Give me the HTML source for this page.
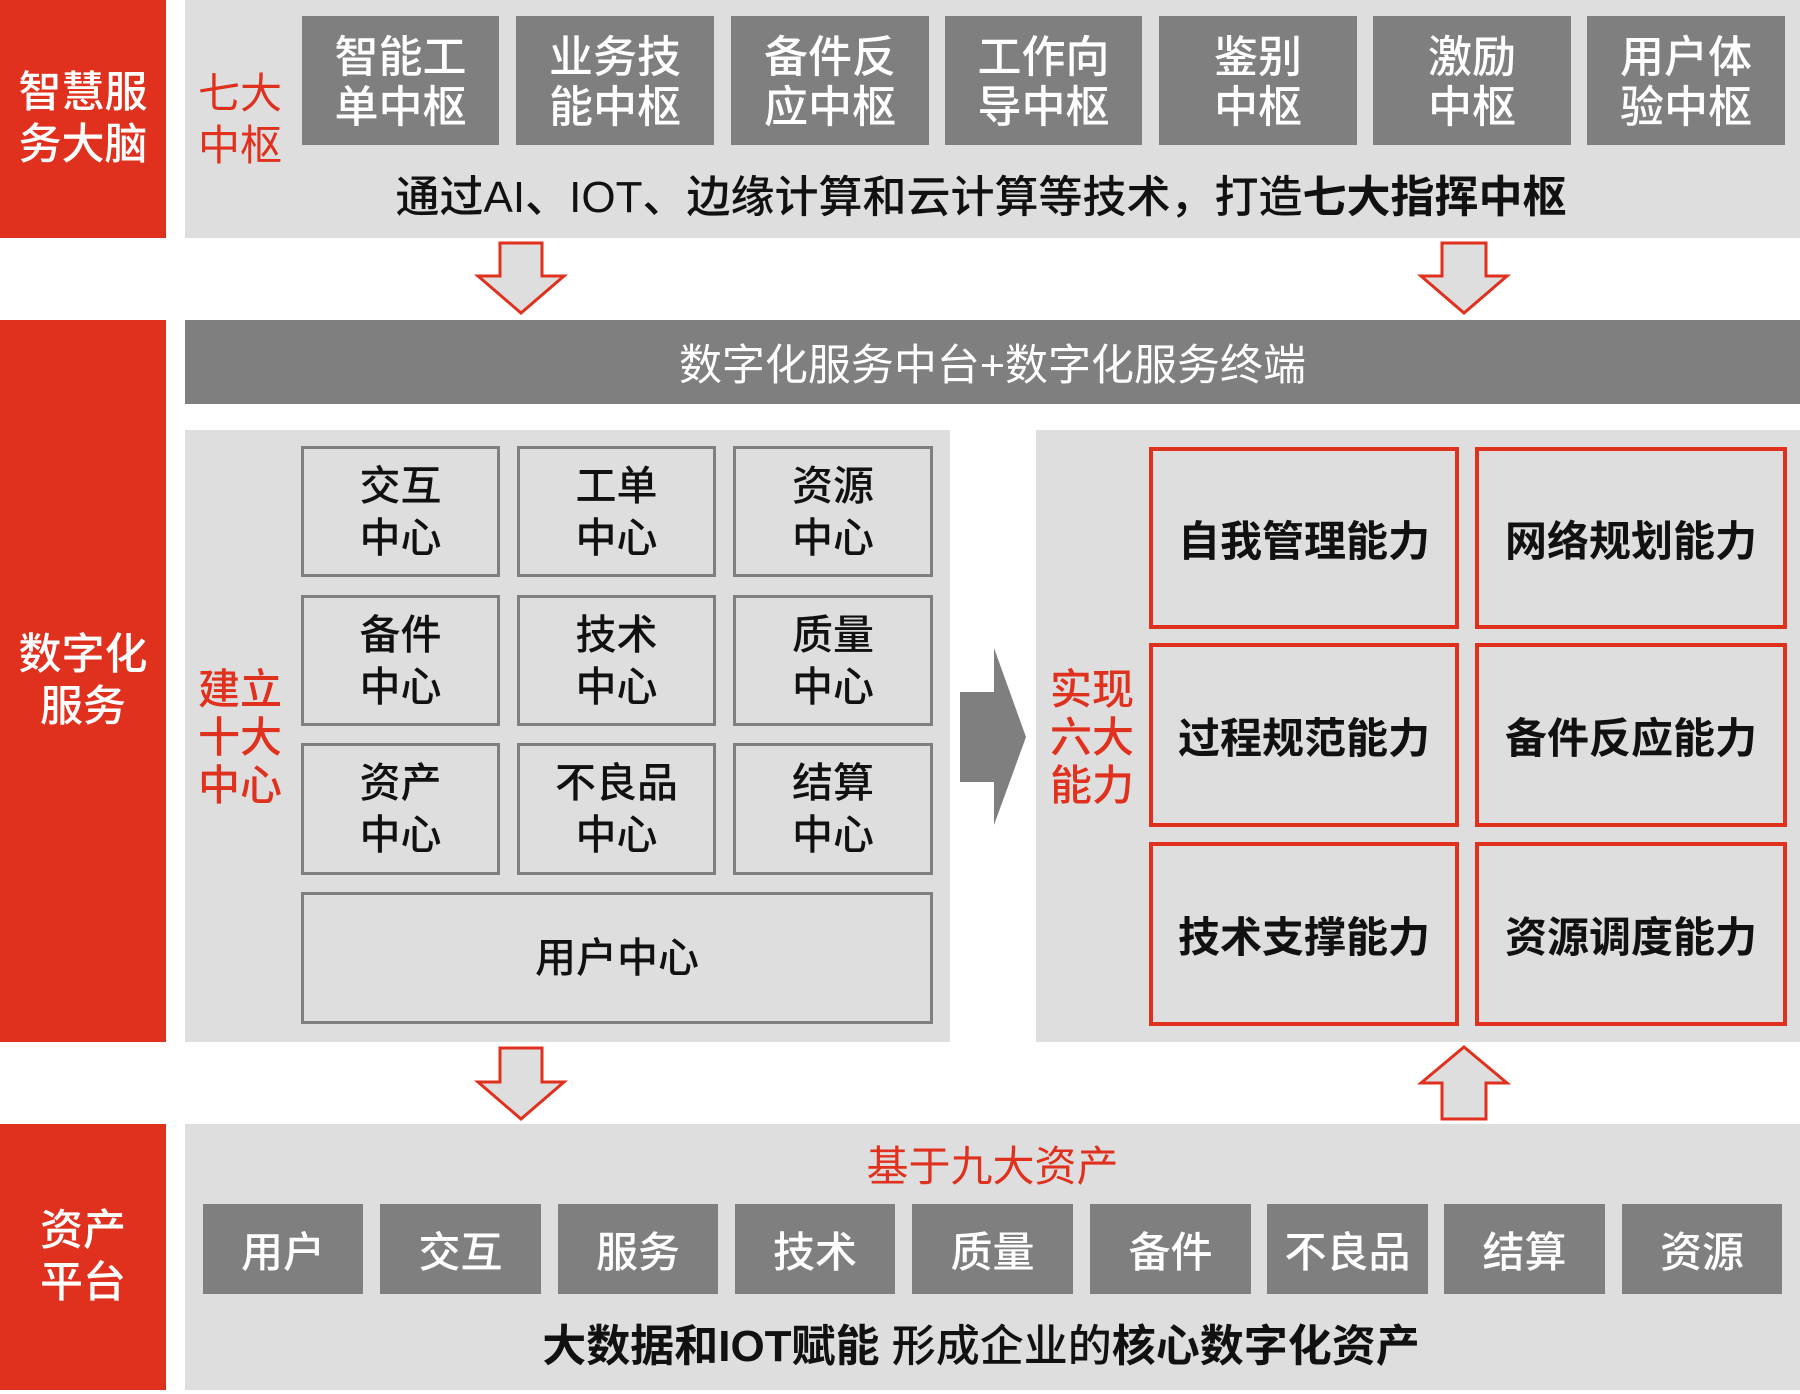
<!DOCTYPE html>
<html>
<head>
<meta charset="utf-8">
<style>
  html, body { margin:0; padding:0; }
  body { width:1800px; height:1394px; position:relative; background:#ffffff; overflow:hidden;
         font-family:"Liberation Sans","Noto Sans CJK SC",sans-serif; }
  .abs { position:absolute; box-sizing:border-box; }
  .red { background:#e0301e; }
  .lg { background:#dedede; }
  .dg { background:#7f7f7f; }
  .c { display:flex; align-items:center; justify-content:center; text-align:center; }
  .side { color:#fff; font-size:43px; line-height:52px; font-weight:500; }
  .rlab { color:#e0301e; font-size:42px; line-height:50px; }
  .tb { color:#fff; font-size:44px; line-height:50px; font-weight:500; padding-top:4px; }
  .gb { border:3px solid #7f7f7f; background:#dedede; color:#111; font-size:41px; line-height:52px; font-weight:500; }
  .rb { border:4px solid #e0301e; background:#dedede; color:#111; font-size:42px; font-weight:bold; }
  .ab { color:#fff; font-size:42px; font-weight:500; }
  b { font-weight:bold; }
</style>
</head>
<body>

<!-- Red side blocks -->
<div class="abs red c side" style="left:0;top:0;width:166px;height:238px;">智慧服<br>务大脑</div>
<div class="abs red c side" style="left:0;top:320px;width:166px;height:722px;">数字化<br>服务</div>
<div class="abs red c side" style="left:0;top:1124px;width:166px;height:266px;">资产<br>平台</div>

<!-- Top panel -->
<div class="abs lg" style="left:185px;top:0;width:1615px;height:238px;"></div>
<div class="abs c rlab" style="left:190px;top:60px;width:100px;height:120px;line-height:52px;">七大<br>中枢</div>
<div class="abs dg c tb" style="left:302px;top:16px;width:197px;height:129px;">智能工<br>单中枢</div>
<div class="abs dg c tb" style="left:516px;top:16px;width:198px;height:129px;">业务技<br>能中枢</div>
<div class="abs dg c tb" style="left:731px;top:16px;width:198px;height:129px;">备件反<br>应中枢</div>
<div class="abs dg c tb" style="left:945px;top:16px;width:197px;height:129px;">工作向<br>导中枢</div>
<div class="abs dg c tb" style="left:1159px;top:16px;width:198px;height:129px;">鉴别<br>中枢</div>
<div class="abs dg c tb" style="left:1373px;top:16px;width:198px;height:129px;">激励<br>中枢</div>
<div class="abs dg c tb" style="left:1587px;top:16px;width:198px;height:129px;">用户体<br>验中枢</div>
<div class="abs c" style="left:185px;top:163px;width:1592px;height:60px;font-size:44px;color:#111;white-space:nowrap;font-weight:500;">通过AI、IOT、边缘计算和云计算等技术，打造<b>七大指挥中枢</b></div>

<!-- Dark bar -->
<div class="abs dg c" style="left:185px;top:320px;width:1615px;height:84px;color:#fff;font-size:43px;white-space:nowrap;">数字化服务中台+数字化服务终端</div>

<!-- Middle left panel -->
<div class="abs lg" style="left:185px;top:430px;width:765px;height:612px;"></div>
<div class="abs c rlab" style="left:190px;top:660px;width:100px;height:156px;line-height:48px;font-weight:500;">建立<br>十大<br>中心</div>
<div class="abs c gb" style="left:301px;top:446px;width:199px;height:131px;">交互<br>中心</div>
<div class="abs c gb" style="left:517px;top:446px;width:199px;height:131px;">工单<br>中心</div>
<div class="abs c gb" style="left:733px;top:446px;width:200px;height:131px;">资源<br>中心</div>
<div class="abs c gb" style="left:301px;top:595px;width:199px;height:131px;">备件<br>中心</div>
<div class="abs c gb" style="left:517px;top:595px;width:199px;height:131px;">技术<br>中心</div>
<div class="abs c gb" style="left:733px;top:595px;width:200px;height:131px;">质量<br>中心</div>
<div class="abs c gb" style="left:301px;top:743px;width:199px;height:132px;">资产<br>中心</div>
<div class="abs c gb" style="left:517px;top:743px;width:199px;height:132px;">不良品<br>中心</div>
<div class="abs c gb" style="left:733px;top:743px;width:200px;height:132px;">结算<br>中心</div>
<div class="abs c gb" style="left:301px;top:892px;width:632px;height:132px;">用户中心</div>

<!-- Middle right panel -->
<div class="abs lg" style="left:1036px;top:430px;width:764px;height:612px;"></div>
<div class="abs c rlab" style="left:1040px;top:660px;width:104px;height:156px;line-height:48px;font-weight:500;">实现<br>六大<br>能力</div>
<div class="abs c rb" style="left:1149px;top:447px;width:310px;height:182px;">自我管理能力</div>
<div class="abs c rb" style="left:1475px;top:447px;width:312px;height:182px;">网络规划能力</div>
<div class="abs c rb" style="left:1149px;top:643px;width:310px;height:184px;">过程规范能力</div>
<div class="abs c rb" style="left:1475px;top:643px;width:312px;height:184px;">备件反应能力</div>
<div class="abs c rb" style="left:1149px;top:842px;width:310px;height:184px;">技术支撑能力</div>
<div class="abs c rb" style="left:1475px;top:842px;width:312px;height:184px;">资源调度能力</div>

<!-- Bottom panel -->
<div class="abs lg" style="left:185px;top:1124px;width:1615px;height:266px;"></div>
<div class="abs c" style="left:185px;top:1136px;width:1615px;height:54px;color:#e0301e;font-size:42px;">基于九大资产</div>
<div class="abs dg c ab" style="left:203px;top:1204px;width:160px;height:90px;">用户</div>
<div class="abs dg c ab" style="left:380px;top:1204px;width:161px;height:90px;">交互</div>
<div class="abs dg c ab" style="left:558px;top:1204px;width:160px;height:90px;">服务</div>
<div class="abs dg c ab" style="left:735px;top:1204px;width:160px;height:90px;">技术</div>
<div class="abs dg c ab" style="left:912px;top:1204px;width:161px;height:90px;">质量</div>
<div class="abs dg c ab" style="left:1090px;top:1204px;width:161px;height:90px;">备件</div>
<div class="abs dg c ab" style="left:1267px;top:1204px;width:161px;height:90px;">不良品</div>
<div class="abs dg c ab" style="left:1444px;top:1204px;width:161px;height:90px;">结算</div>
<div class="abs dg c ab" style="left:1622px;top:1204px;width:160px;height:90px;">资源</div>
<div class="abs c" style="left:185px;top:1312px;width:1592px;height:60px;font-size:44px;color:#111;white-space:nowrap;font-weight:500;"><b>大数据和IOT赋能</b>&nbsp;形成企业的<b>核心数字化资产</b></div>

<!-- Arrows -->
<svg class="abs" style="left:0;top:0;" width="1800" height="1394" viewBox="0 0 1800 1394">
  <g fill="#dedede" stroke="#e0301e" stroke-width="3" stroke-linejoin="miter">
    <polygon points="500,243 542,243 542,276 564,276 521,313 478,276 500,276"/>
    <polygon points="1442,243 1486,243 1486,276 1507,276 1464,313 1421,276 1442,276"/>
    <polygon points="500,1048 542,1048 542,1082 564,1082 521,1119 478,1082 500,1082"/>
    <polygon points="1464,1047 1507,1083 1486,1083 1486,1119 1442,1119 1442,1083 1421,1083"/>
  </g>
  <polygon fill="#7f7f7f" points="960,692 994,692 994,648 1026,737 994,825 994,782 960,782"/>
</svg>

</body>
</html>
